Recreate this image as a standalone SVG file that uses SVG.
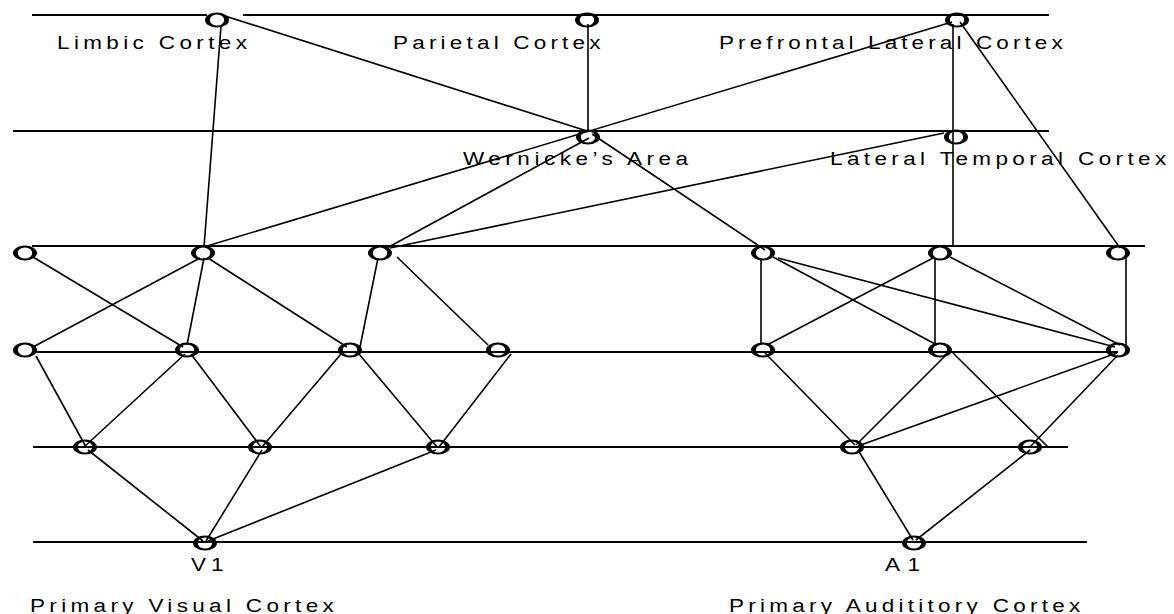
<svg xmlns="http://www.w3.org/2000/svg" xmlns:xlink="http://www.w3.org/1999/xlink" width="1174" height="614" viewBox="0 0 1174 614">
  <style>
    .row { stroke: #000; stroke-width: 1.8; fill: none; }
    .edge { stroke: #000; stroke-width: 1.6; fill: none; }
    .dot { fill: #000; fill-rule: evenodd; }
    .lbl { font-family: "Liberation Sans", Arial, sans-serif; font-size: 18px; fill: #000; }
  </style>
  <defs>
    <!-- bold serif-style ring: thick sides, thin top and bottom -->
    <path id="ring" class="dot" d="M-12 0A12 7.5 0 1 0 12 0A12 7.5 0 1 0 -12 0Z M-7.2 0A7.2 5.6 0 1 0 7.2 0A7.2 5.6 0 1 0 -7.2 0Z"/>
  </defs>
  <rect width="1174" height="614" fill="#fff"/>

  <!-- layer lines -->
  <g id="layers" class="row">
    <line x1="32" y1="15" x2="207" y2="15"/>
    <line x1="243" y1="15" x2="1049" y2="15"/>
    <line x1="13" y1="131" x2="1049" y2="131"/>
    <line x1="32" y1="246" x2="1145" y2="246"/>
    <line x1="36" y1="352" x2="1118" y2="352"/>
    <line x1="33" y1="447" x2="1068" y2="447"/>
    <line x1="33" y1="542" x2="1087" y2="542"/>
  </g>

  <!-- connections between areas -->
  <g id="connectors" class="edge">
    <line x1="225" y1="16" x2="587" y2="131"/>
    <line x1="221" y1="26" x2="204" y2="247"/>
    <line x1="588" y1="24" x2="588" y2="131"/>
    <line x1="953" y1="24" x2="953" y2="246"/>
    <line x1="960" y1="22" x2="1120" y2="248"/>
    <line x1="207" y1="246" x2="952" y2="22"/>
    <line x1="589" y1="138" x2="385" y2="249"/>
    <line x1="592" y1="134" x2="765" y2="250"/>
    <line x1="944" y1="133" x2="390" y2="248"/>

    <line x1="33" y1="257" x2="183" y2="347"/>
    <line x1="200" y1="258" x2="33" y2="347"/>
    <line x1="204" y1="258" x2="187" y2="345"/>
    <line x1="208" y1="258" x2="347" y2="347"/>
    <line x1="378" y1="258" x2="360" y2="347"/>
    <line x1="397" y1="257" x2="488" y2="345"/>
    <line x1="761" y1="258" x2="761" y2="345"/>
    <line x1="773" y1="257" x2="937" y2="345"/>
    <line x1="778" y1="258" x2="1115" y2="347"/>
    <line x1="933" y1="258" x2="767" y2="345"/>
    <line x1="935" y1="258" x2="935" y2="345"/>
    <line x1="950" y1="257" x2="1120" y2="345"/>
    <line x1="1126" y1="258" x2="1126" y2="349"/>

    <line x1="36" y1="356" x2="86" y2="447"/>
    <line x1="185" y1="354" x2="84" y2="447"/>
    <line x1="191" y1="354" x2="261" y2="447"/>
    <line x1="341" y1="354" x2="262" y2="447"/>
    <line x1="359" y1="354" x2="437" y2="447"/>
    <line x1="511" y1="354" x2="439" y2="447"/>
    <line x1="765" y1="353" x2="855" y2="445"/>
    <line x1="948" y1="353" x2="856" y2="445"/>
    <line x1="953" y1="353" x2="1048" y2="447"/>
    <line x1="1117" y1="353" x2="858" y2="446"/>
    <line x1="1118" y1="355" x2="1030" y2="447"/>

    <line x1="88" y1="450" x2="203" y2="541"/>
    <line x1="262" y1="450" x2="206" y2="541"/>
    <line x1="436" y1="450" x2="208" y2="541"/>
    <line x1="858" y1="450" x2="913" y2="540"/>
    <line x1="1030" y1="450" x2="916" y2="540"/>
  </g>

  <!-- named areas -->
  <g id="limbic">
    <use xlink:href="#ring" x="217" y="20"/>
    <text class="lbl" transform="translate(57 49) scale(1.25 1)" textLength="152">Limbic Cortex</text>
  </g>
  <g id="parietal">
    <use xlink:href="#ring" x="587" y="20"/>
    <text class="lbl" transform="translate(393 49) scale(1.25 1)" textLength="166">Parietal Cortex</text>
  </g>
  <g id="prefrontal">
    <use xlink:href="#ring" x="957" y="20"/>
    <text class="lbl" transform="translate(719 49) scale(1.25 1)" textLength="275">Prefrontal Lateral Cortex</text>
  </g>
  <g id="wernicke">
    <use xlink:href="#ring" x="588" y="137"/>
    <text class="lbl" transform="translate(463 165) scale(1.25 1)" textLength="180">Wernicke’s Area</text>
  </g>
  <g id="lateral-temporal">
    <use xlink:href="#ring" x="956" y="137"/>
    <text class="lbl" transform="translate(830 165) scale(1.25 1)" textLength="269">Lateral Temporal Cortex</text>
  </g>

  <!-- intermediate units -->
  <g id="u3-1"><use xlink:href="#ring" x="25" y="253"/></g>
  <g id="u3-2"><use xlink:href="#ring" x="203" y="253"/></g>
  <g id="u3-3"><use xlink:href="#ring" x="380" y="253"/></g>
  <g id="u3-4"><use xlink:href="#ring" x="763" y="253"/></g>
  <g id="u3-5"><use xlink:href="#ring" x="940" y="253"/></g>
  <g id="u3-6"><use xlink:href="#ring" x="1118" y="253"/></g>

  <g id="u4-1"><use xlink:href="#ring" x="25" y="350"/></g>
  <g id="u4-2"><use xlink:href="#ring" x="187" y="350"/></g>
  <g id="u4-3"><use xlink:href="#ring" x="350" y="350"/></g>
  <g id="u4-4"><use xlink:href="#ring" x="498" y="350"/></g>
  <g id="u4-5"><use xlink:href="#ring" x="763" y="350"/></g>
  <g id="u4-6"><use xlink:href="#ring" x="940" y="350"/></g>
  <g id="u4-7"><use xlink:href="#ring" x="1118" y="350"/></g>

  <g id="u5-1"><use xlink:href="#ring" x="85" y="447"/></g>
  <g id="u5-2"><use xlink:href="#ring" x="260" y="447"/></g>
  <g id="u5-3"><use xlink:href="#ring" x="438" y="447"/></g>
  <g id="u5-4"><use xlink:href="#ring" x="852" y="447"/></g>
  <g id="u5-5"><use xlink:href="#ring" x="1030" y="447"/></g>

  <!-- primary sensory areas -->
  <g id="v1">
    <use xlink:href="#ring" x="205" y="543"/>
    <text class="lbl" transform="translate(191 571) scale(1.25 1)" textLength="26">V1</text>
    <text class="lbl" transform="translate(30 612) scale(1.25 1)" textLength="243">Primary Visual Cortex</text>
  </g>
  <g id="a1">
    <use xlink:href="#ring" x="914" y="543"/>
    <text class="lbl" transform="translate(885 571) scale(1.25 1)" textLength="28">A1</text>
    <text class="lbl" transform="translate(729 612) scale(1.25 1)" textLength="281">Primary Audititory Cortex</text>
  </g>
</svg>
